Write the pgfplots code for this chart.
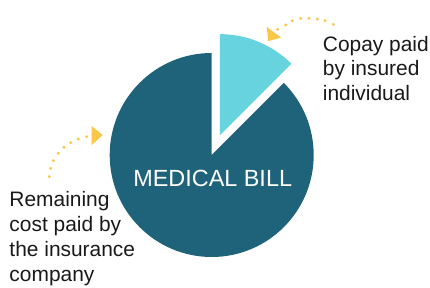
\documentclass[border=0pt]{standalone}
\usepackage{pgfplots}
\usepackage{pgfplotstable}
\pgfplotsset{compat=1.18}
\usepackage{fontspec}
\setmainfont{Liberation Sans}
\definecolor{darkteal}{HTML}{1F637A}
\definecolor{lightcyan}{HTML}{66D3DF}
\definecolor{gold}{HTML}{F9C74A}

\pgfplotstableread{
label share
Copay 12.5
Remaining 87.5
}\piedata

\begin{document}
\begin{tikzpicture}
\pgfplotstablegetelem{0}{share}\of\piedata
\pgfmathsetmacro{\copayshare}{\pgfplotsretval}
\pgfplotstablegetelem{1}{share}\of\piedata
\pgfmathsetmacro{\restshare}{\pgfplotsretval}
\pgfmathsetmacro{\restend}{90+3.6*\restshare}
\pgfmathsetmacro{\copaystart}{90-3.6*\copayshare}
\pgfmathsetmacro{\copaymid}{90-1.8*\copayshare}
\begin{axis}[
  width=430bp, height=288bp, scale only axis,
  xmin=0, xmax=430, ymin=0, ymax=288, y dir=reverse,
  hide axis, clip=false,
]
% bounding box
\path (axis cs:0,0) rectangle (axis cs:430,288);
% remaining cost slice
\fill[darkteal] (axis cs:211.7,155) -- ++(90:102bp) arc[start angle=90, end angle=\restend, radius=102bp] -- cycle;
% copay slice (exploded)
\fill[lightcyan] (axis cs:211.7,155) ++(\copaymid:21.5bp) -- ++(\copaystart:101bp) arc[start angle=\copaystart, end angle=90, radius=101bp] -- cycle;
\node[inner sep=0pt, text=white, font=\fontsize{23.5}{28}\selectfont, anchor=base] at (axis cs:212.7,186.7) {MEDICAL BILL};
% labels
\begin{scope}[every node/.style={inner sep=0pt, anchor=base west, font=\fontsize{21}{25}\selectfont, text=black!90}]
\node at (axis cs:322.7,51) {Copay paid};
\node at (axis cs:322.7,75.5) {by insured};
\node at (axis cs:322.7,100) {individual};
\node at (axis cs:9.3,206.7) {Remaining};
\node at (axis cs:9.3,231.7) {cost paid by};
\node at (axis cs:9.3,256.7) {the insurance};
\node at (axis cs:9.3,281.7) {company};
\end{scope}
% dotted arrows
\addplot[only marks, mark=*, mark size=1.3bp, color=gold] coordinates {
(333.3,24.3) (325,20.7) (317.3,19) (309,18.3) (300.7,18.3) (292.3,20.7) (285.7,25) (277.7,29.3)};
\fill[gold] (axis cs:266.7,26.7) -- (axis cs:268.3,41) -- (axis cs:281,37.7) -- cycle;
\addplot[only marks, mark=*, mark size=1.3bp, color=gold] coordinates {
(49.3,176.7) (50.7,168.3) (53.3,160.7) (58.3,153.3) (64,147.3) (70.7,142.7) (78.3,139) (86.7,136.7)};
\fill[gold] (axis cs:91.7,126) -- (axis cs:91.7,145) -- (axis cs:102.7,135) -- cycle;
\end{axis}
\end{tikzpicture}
\end{document}
